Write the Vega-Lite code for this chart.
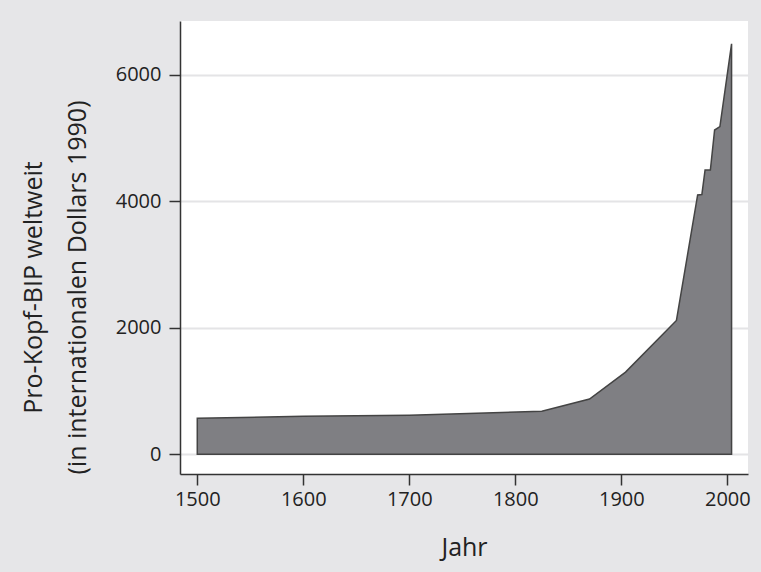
{
  "$schema": "https://vega.github.io/schema/vega-lite/v6.json",
  "width": 568,
  "height": 453,
  "autosize": {"type": "none"},
  "padding": {"left": 180, "top": 21, "right": 13, "bottom": 98},
  "background": "#e6e6e8",
  "view": {"fill": "white", "stroke": null},
  "config": {
    "font": "Open Sans",
    "axis": {
      "labelFont": "Open Sans",
      "titleFont": "Open Sans",
      "labelColor": "#222222",
      "titleColor": "#222222",
      "titleFontWeight": "normal",
      "domainColor": "#333333",
      "domainWidth": 1.5,
      "tickColor": "#333333",
      "tickWidth": 1.5,
      "tickSize": 11,
      "labelFontSize": 20
    }
  },
  "data": {
    "values": [
      {"Jahr": 1500, "BIP": 569},
      {"Jahr": 1600, "BIP": 600},
      {"Jahr": 1700, "BIP": 616},
      {"Jahr": 1825, "BIP": 682},
      {"Jahr": 1870, "BIP": 873},
      {"Jahr": 1904, "BIP": 1300},
      {"Jahr": 1952, "BIP": 2116},
      {"Jahr": 1972, "BIP": 4100},
      {"Jahr": 1976, "BIP": 4108},
      {"Jahr": 1979, "BIP": 4495},
      {"Jahr": 1984, "BIP": 4495},
      {"Jahr": 1988, "BIP": 5127},
      {"Jahr": 1993, "BIP": 5180},
      {"Jahr": 2004, "BIP": 6490}
    ]
  },
  "mark": {"type": "area", "fill": "#7f7f83", "stroke": "#444444", "strokeWidth": 1.5, "fillOpacity": 1},
  "encoding": {
    "x": {
      "field": "Jahr",
      "type": "quantitative",
      "scale": {"domain": [1483.7, 2019.5], "nice": false, "zero": false},
      "axis": {
        "values": [1500, 1600, 1700, 1800, 1900, 2000],
        "format": "d",
        "grid": false,
        "labelPadding": 4,
        "title": "Jahr",
        "titleFontSize": 25,
        "titleBaseline": "alphabetic",
        "titleY": 81
      }
    },
    "y": {
      "field": "BIP",
      "type": "quantitative",
      "scale": {"domain": [-311, 6850], "nice": false, "zero": false},
      "axis": {
        "values": [0, 2000, 4000, 6000],
        "format": "d",
        "grid": true,
        "gridColor": "#e4e4e6",
        "gridWidth": 2,
        "labelPadding": 8,
        "title": ["Pro-Kopf-BIP weltweit", "(in internationalen Dollars 1990)"],
        "titleFontSize": 25,
        "titleLineHeight": 44,
        "titleBaseline": "alphabetic",
        "titleAngle": 270,
        "titleAlign": "center",
        "titleX": -139,
        "titleY": 266
      }
    },
    "y2": {"datum": 0}
  }
}
